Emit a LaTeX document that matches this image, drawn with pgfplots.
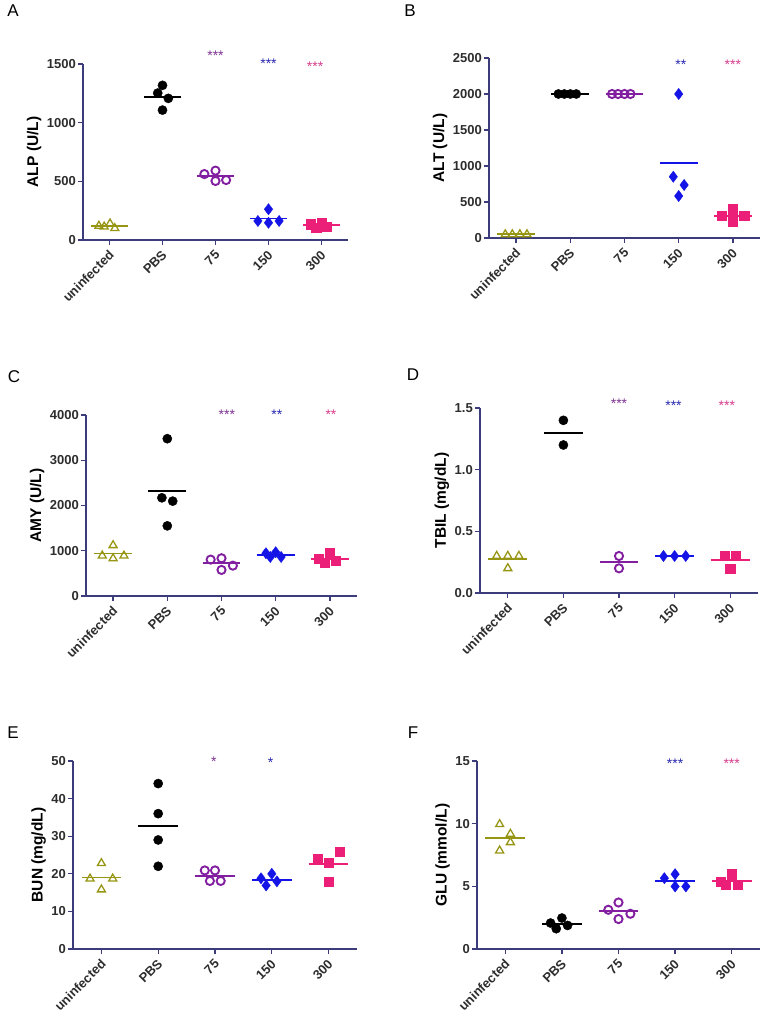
\documentclass[border=0pt]{standalone}
\usepackage{fontspec}
\setmainfont{Liberation Sans}
\usepackage{pgfplots}
\pgfplotsset{compat=1.18}
\definecolor{golive}{RGB}{150,150,20}
\definecolor{gpurple}{RGB}{130,30,160}
\definecolor{gblue}{RGB}{20,20,230}
\definecolor{gpink}{RGB}{235,30,120}
\definecolor{spurple}{RGB}{125,50,145}
\definecolor{sblue}{RGB}{40,40,175}
\definecolor{spink}{RGB}{215,60,140}
\definecolor{axiscol}{RGB}{60,60,125}
\definecolor{ticklab}{RGB}{45,45,45}
\tikzset{st/.style={font=\fontsize{14}{14}\selectfont, anchor=base, yshift=-8pt}}
\pgfplotsset{
  panel/.style={
    scale only axis, clip=false, anchor=south west,
    axis x line*=bottom, axis y line*=left,
    axis line style={-, draw=axiscol, line width=1.3pt},
    xmin=-0.5, xmax=4.5, ymin=0,
    xtick={0,1,2,3,4}, xticklabels={uninfected,PBS,75,150,300},
    tick style={draw=axiscol, line width=1.3pt},
    tick align=outside, major tick length=5pt,
    x tick label style={rotate=45, anchor=north east, font=\bfseries\fontsize{13}{13}\selectfont, text=ticklab, inner sep=2pt, xshift=-2pt},
    y tick label style={font=\bfseries\fontsize{13}{13}\selectfont, text=ticklab, inner sep=2pt},
    /pgf/number format/assume math mode=true,
    /pgf/number format/1000 sep={},
    scaled y ticks=false,
    ylabel style={font=\bfseries\fontsize{15.5}{15.5}\selectfont},
  },
  m0/.style={only marks, mark=triangle, mark size=4.6pt, golive, mark options={line width=1.3pt, solid}},
  m1/.style={only marks, mark=*, mark size=4.6pt, black},
  m2/.style={only marks, mark=o, mark size=4.1pt, gpurple, mark options={line width=1.9pt}},
  m3/.style={only marks, mark=diamond*, mark size=5.6pt, gblue},
  m4/.style={only marks, mark=square*, mark size=4.6pt, gpink},
  ml/.style={no marks, line width=1.8pt},
}
\begin{document}
\begin{tikzpicture}
\path[use as bounding box] (0pt,0pt) rectangle (763pt,1020pt);
\node[font=\fontsize{17}{17}\selectfont] at (13pt,1009pt) {A};
\node[font=\fontsize{17}{17}\selectfont] at (410pt,1009pt) {B};
\node[font=\fontsize{17}{17}\selectfont] at (14pt,643pt) {C};
\node[font=\fontsize{17}{17}\selectfont] at (413pt,645pt) {D};
\node[font=\fontsize{17}{17}\selectfont] at (13pt,287pt) {E};
\node[font=\fontsize{17}{17}\selectfont] at (413pt,287pt) {F};
% ---------------- A
\begin{axis}[panel, at={(83pt,780pt)}, width=265pt, height=176pt, ymax=1500, ytick={0,500,1000,1500}, ylabel={ALP (U/L)}]
\addplot[ml, golive] coordinates {(-0.35,118) (0.35,118)};
\addplot[ml, black] coordinates {(0.65,1221) (1.35,1221)};
\addplot[ml, gpurple] coordinates {(1.65,542) (2.35,542)};
\addplot[ml, gblue] coordinates {(2.65,183) (3.35,183)};
\addplot[ml, gpink] coordinates {(3.65,126) (4.35,126)};
\addplot[m0] coordinates {(-0.2,120) (-0.1,113) (0.01,140) (0.1,100)};
\addplot[m1] coordinates {(1,1318) (0.91,1252) (1.11,1207) (1,1107)};
\addplot[m2] coordinates {(1.79,562) (2,591) (2,503) (2.2,511)};
\addplot[m3] coordinates {(3,262) (2.8,162) (3,147) (3.2,162)};
\addplot[m4] coordinates {(3.79,135) (4,150) (3.9,108) (4.1,112)};
\node[st, text=spurple] at (axis cs:2,1602) {***};
\node[st, text=sblue] at (axis cs:3,1526) {***};
\node[st, text=spink] at (axis cs:3.88,1500) {***};
\end{axis}
% ---------------- B
\begin{axis}[panel, at={(489pt,782pt)}, width=271pt, height=180pt, ymax=2500, ytick={0,500,1000,1500,2000,2500}, ylabel={ALT (U/L)}]
\addplot[ml, golive] coordinates {(-0.35,50) (0.35,50)};
\addplot[ml, black] coordinates {(0.65,2000) (1.35,2000)};
\addplot[ml, gpurple] coordinates {(1.65,2000) (2.35,2000)};
\addplot[ml, gblue] coordinates {(2.65,1042) (3.35,1042)};
\addplot[ml, gpink] coordinates {(3.65,309) (4.35,309)};
\addplot[m0] coordinates {(-0.2,50) (-0.07,50) (0.07,50) (0.2,50)};
\addplot[m1] coordinates {(0.78,2000) (0.89,2000) (1,2000) (1.11,2000)};
\addplot[m2] coordinates {(1.77,2000) (1.88,2000) (2,2000) (2.11,2000)};
\addplot[m3] coordinates {(3,2000) (2.9,851) (3.1,736) (3,583)};
\addplot[m4] coordinates {(3.79,306) (4,399) (4.21,306) (4,226)};
\node[st, text=sblue] at (axis cs:3.04,2458) {**};
\node[st, text=spink] at (axis cs:4,2458) {***};
\end{axis}
% ---------------- C
\begin{axis}[panel, at={(86pt,424pt)}, width=271pt, height=181pt, ymax=4000, ytick={0,1000,2000,3000,4000}, ylabel={AMY (U/L)}]
\addplot[ml, golive] coordinates {(-0.35,940) (0.35,940)};
\addplot[ml, black] coordinates {(0.65,2323) (1.35,2323)};
\addplot[ml, gpurple] coordinates {(1.65,721) (2.35,721)};
\addplot[ml, gblue] coordinates {(2.65,900) (3.35,900)};
\addplot[ml, gpink] coordinates {(3.65,821) (4.35,821)};
\addplot[m0] coordinates {(0,1120) (-0.2,890) (0,830) (0.2,890)};
\addplot[m1] coordinates {(1,3476) (0.9,2170) (1.1,2096) (1,1550)};
\addplot[m2] coordinates {(1.8,804) (2,834) (2,576) (2.21,671)};
\addplot[m3] coordinates {(2.82,945) (3,967) (2.9,863) (3.1,863)};
\addplot[m4] coordinates {(3.8,819) (4,952) (3.9,738) (4.1,775)};
\node[st, text=spurple] at (axis cs:2.1,4073) {***};
\node[st, text=sblue] at (axis cs:3.02,4088) {**};
\node[st, text=spink] at (axis cs:4.02,4088) {**};
\end{axis}
% ---------------- D
\begin{axis}[panel, at={(480pt,427pt)}, width=278pt, height=185pt, ymax=1.5, ytick={0,0.5,1,1.5}, ylabel={TBIL (mg/dL)},
  yticklabel style={/pgf/number format/.cd, fixed, fixed zerofill, precision=1}]
\addplot[ml, golive] coordinates {(-0.35,0.275) (0.35,0.275)};
\addplot[ml, black] coordinates {(0.65,1.3) (1.35,1.3)};
\addplot[ml, gpurple] coordinates {(1.65,0.25) (2.35,0.25)};
\addplot[ml, gblue] coordinates {(2.65,0.3) (3.35,0.3)};
\addplot[ml, gpink] coordinates {(3.65,0.267) (4.35,0.267)};
\addplot[m0] coordinates {(-0.2,0.3) (0,0.3) (0.2,0.3) (0,0.2)};
\addplot[m1] coordinates {(1,1.4) (1,1.2)};
\addplot[m2] coordinates {(2,0.3) (2,0.2)};
\addplot[m3] coordinates {(2.8,0.3) (3,0.3) (3.2,0.3)};
\addplot[m4] coordinates {(3.9,0.3) (4.1,0.3) (4,0.2)};
\node[st, text=spurple] at (axis cs:2,1.559) {***};
\node[st, text=sblue] at (axis cs:2.98,1.543) {***};
\node[st, text=spink] at (axis cs:3.94,1.543) {***};
\end{axis}
% ---------------- E
\begin{axis}[panel, at={(73pt,71pt)}, width=284pt, height=188pt, ymax=50, ytick={0,10,20,30,40,50}, ylabel={BUN (mg/dL)}]
\addplot[ml, golive] coordinates {(-0.35,19) (0.35,19)};
\addplot[ml, black] coordinates {(0.65,32.75) (1.35,32.75)};
\addplot[ml, gpurple] coordinates {(1.65,19.5) (2.35,19.5)};
\addplot[ml, gblue] coordinates {(2.65,18.4) (3.35,18.4)};
\addplot[ml, gpink] coordinates {(3.65,22.7) (4.35,22.7)};
\addplot[m0] coordinates {(0,22.8) (-0.2,18.7) (0.2,18.7) (0,15.8)};
\addplot[m1] coordinates {(1,44) (1,36) (1,29) (1,22)};
\addplot[m2] coordinates {(1.82,20.9) (2,20.9) (1.91,18.1) (2.1,18.1)};
\addplot[m3] coordinates {(2.81,18.8) (3,20) (2.9,16.9) (3.09,18)};
\addplot[m4] coordinates {(3.81,23.9) (4,22.9) (4.2,25.9) (4,18)};
\node[st, text=spurple] at (axis cs:1.98,50.6) {*};
\node[st, text=sblue] at (axis cs:2.98,50.5) {*};
\end{axis}
% ---------------- F
\begin{axis}[panel, at={(477pt,71pt)}, width=283pt, height=188pt, ymax=15, ytick={0,5,10,15}, ylabel={GLU (mmol/L)}]
\addplot[ml, golive] coordinates {(-0.35,8.87) (0.35,8.87)};
\addplot[ml, black] coordinates {(0.65,2.01) (1.35,2.01)};
\addplot[ml, gpurple] coordinates {(1.65,3.01) (2.35,3.01)};
\addplot[ml, gblue] coordinates {(2.65,5.4) (3.35,5.4)};
\addplot[ml, gpink] coordinates {(3.65,5.4) (4.35,5.4)};
\addplot[m0] coordinates {(-0.1,9.95) (0.09,9.18) (0.09,8.51) (-0.1,7.85)};
\addplot[m1] coordinates {(0.8,2.07) (1,2.47) (1.1,1.88) (0.9,1.62)};
\addplot[m2] coordinates {(1.82,3.13) (2,3.71) (2.21,2.81) (2,2.39)};
\addplot[m3] coordinates {(2.81,5.65) (3,5.97) (3,4.99) (3.19,4.99)};
\addplot[m4] coordinates {(3.8,5.38) (4,5.97) (3.9,5.12) (4.1,5.12)};
\node[st, text=sblue] at (axis cs:3,15) {***};
\node[st, text=spink] at (axis cs:4,15) {***};
\end{axis}
\end{tikzpicture}
\end{document}
